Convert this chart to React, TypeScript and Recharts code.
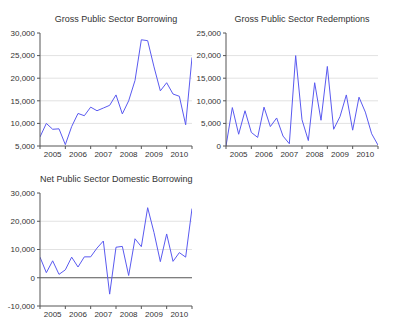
import React from 'react';
import { LineChart, Line, XAxis, YAxis, ReferenceLine } from 'recharts';

const quarterIndex = [0, 1, 2, 3, 4, 5, 6, 7, 8, 9, 10, 11, 12, 13, 14, 15, 16, 17, 18, 19, 20, 21, 22, 23, 24];
const grossBorrowing = [7000, 10000, 8700, 8800, 5300, 9300, 12200, 11700, 13600, 12800, 13400, 14000, 16300, 12100, 15000, 19500, 28500, 28300, 22500, 17200, 19000, 16500, 16000, 9700, 24600];
const grossRedemptions = [0, 8500, 2600, 7800, 3000, 1900, 8600, 4300, 6200, 2200, 500, 20000, 5800, 1200, 14000, 5700, 17600, 3700, 6500, 11300, 3500, 10800, 7500, 2700, 200];
const netBorrowing = [7300, 1800, 6000, 1200, 2800, 7300, 3800, 7400, 7400, 10500, 13000, -5800, 10800, 11100, 800, 13800, 11000, 24800, 16000, 5700, 15500, 5800, 8900, 7300, 24500];

const yearBoundaryTicks = [0, 4, 8, 12, 16, 20, 24];
const yearLabelTicks = [2, 6, 10, 14, 18, 22];
const yearLabels = ['2005', '2006', '2007', '2008', '2009', '2010'];

const borrowingTicks = [5000, 10000, 15000, 20000, 25000, 30000];
const redemptionTicks = [0, 5000, 10000, 15000, 20000, 25000];
const netTicks = [-10000, 0, 10000, 20000, 30000];

const FONT = '"Liberation Sans", Arial, sans-serif';
const AXIS = '#555555';
const TEXT = '#333333';
const TICK_SIZE = 3;
const TICK_MARGIN = 2;

const YearTick = (props: any) => {
  const { x, y, payload } = props;
  const v = payload.value;
  if (yearBoundaryTicks.indexOf(v) >= 0) {
    const top = y - TICK_MARGIN - TICK_SIZE;
    return <line x1={x} x2={x} y1={top} y2={top + TICK_SIZE} stroke={AXIS} />;
  }
  const li = yearLabelTicks.indexOf(v);
  return (
    <text x={x} y={y} dy="0.71em" textAnchor="middle" fontSize={8} fill={TEXT} fontFamily={FONT}>
      {yearLabels[li]}
    </text>
  );
};

const allXTicks = [...yearBoundaryTicks, ...yearLabelTicks].sort((a, b) => a - b);

function Panel(props: {
  left: number;
  top: number;
  title: string;
  values: number[];
  domain: [number, number];
  ticks: number[];
  zeroLine?: boolean;
}) {
  const { left, top, title, values, domain, ticks, zeroLine } = props;
  const data = quarterIndex.map((q, i) => ({ q, v: values[i] }));
  const grid = ticks.filter((t) => t !== domain[0] && t !== domain[1] && !(zeroLine && t === 0));
  return (
    <div style={{ position: 'absolute', left, top, width: 200, height: 165 }}>
      <div
        style={{
          position: 'absolute',
          left: 40,
          width: 152,
          top: 14,
          textAlign: 'center',
          fontSize: 9,
          lineHeight: '11px',
          fontFamily: FONT,
          color: TEXT,
          whiteSpace: 'nowrap',
        }}
      >
        {title}
      </div>
      <LineChart width={200} height={165} data={data} margin={{ top: 33, right: 8, bottom: 0, left: 0 }}>
        <XAxis
          dataKey="q"
          type="number"
          domain={[0, 24]}
          ticks={allXTicks}
          interval={0}
          tickLine={false}
          tickSize={TICK_SIZE}
          tickMargin={TICK_MARGIN}
          tick={<YearTick />}
          stroke={AXIS}
          height={19}
          allowDataOverflow
        />
        <YAxis
          domain={domain}
          ticks={ticks}
          interval={0}
          width={40}
          tickSize={3}
          tickMargin={2}
          stroke={AXIS}
          tick={{ fontSize: 8, fill: TEXT, fontFamily: FONT }}
          tickFormatter={(v: number) => v.toLocaleString('en-US')}
          allowDataOverflow
        />
        {grid.map((g) => (
          <ReferenceLine key={g} y={g} stroke="#e2e2e2" />
        ))}
        {zeroLine && <ReferenceLine y={0} stroke={AXIS} />}
        <Line dataKey="v" type="linear" stroke="#5a5af0" strokeWidth={1} dot={false} isAnimationActive={false} />
      </LineChart>
    </div>
  );
}

export default function App() {
  return (
    <div style={{ position: 'absolute', left: 0, top: 0, width: 399, height: 330, background: '#fff' }}>
      <Panel left={0} top={0} title="Gross Public Sector Borrowing" values={grossBorrowing} domain={[5000, 30000]} ticks={borrowingTicks} />
      <Panel left={186} top={0} title="Gross Public Sector Redemptions" values={grossRedemptions} domain={[0, 25000]} ticks={redemptionTicks} />
      <Panel left={0} top={160} title="Net Public Sector Domestic Borrowing" values={netBorrowing} domain={[-10000, 30000]} ticks={netTicks} zeroLine />
    </div>
  );
}
